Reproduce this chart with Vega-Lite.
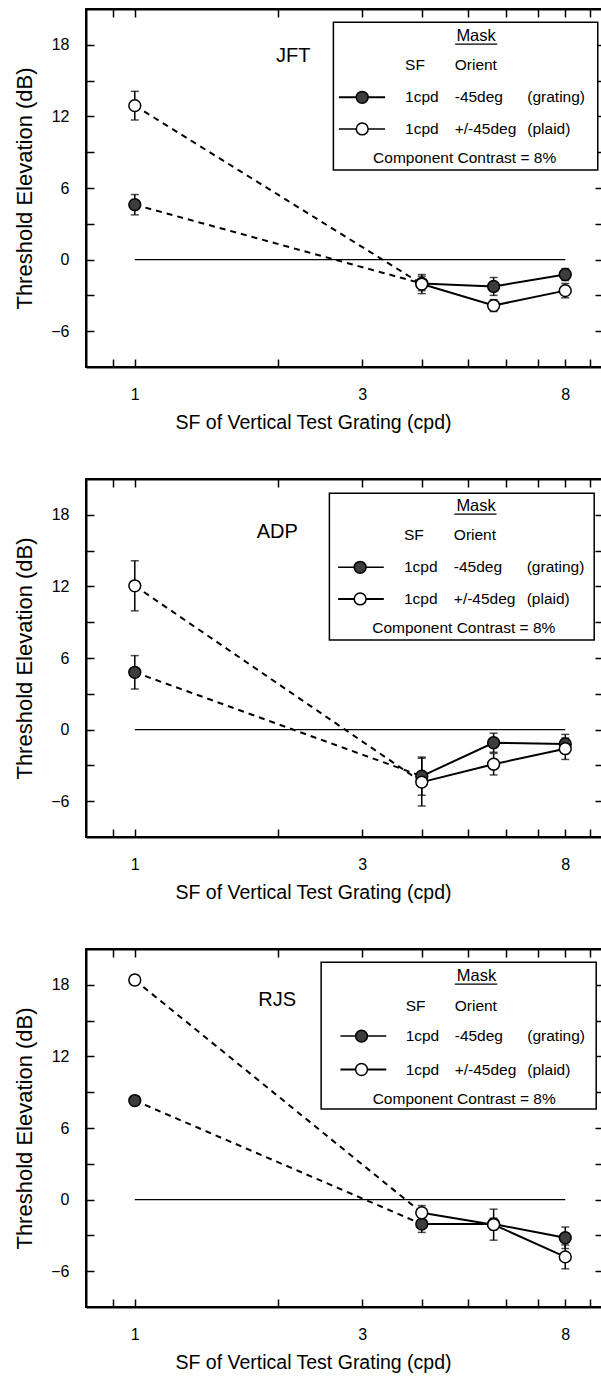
{
  "$schema": "https://vega.github.io/schema/vega-lite/v6.json",
  "padding": {"left": 12, "top": 7, "right": 0, "bottom": 4},
  "background": "white",
  "bounds": "flush",
  "spacing": 112,
  "datasets": {
    "pts": [
      {"subject": "JFT", "mask": "grating", "sf": 1, "thr": 4.6, "err": 0.85},
      {"subject": "JFT", "mask": "grating", "sf": 4, "thr": -2.0, "err": 0.6},
      {"subject": "JFT", "mask": "grating", "sf": 5.66, "thr": -2.25, "err": 0.75},
      {"subject": "JFT", "mask": "grating", "sf": 8, "thr": -1.25, "err": 0.5},
      {"subject": "JFT", "mask": "plaid", "sf": 1, "thr": 12.9, "err": 1.2},
      {"subject": "JFT", "mask": "plaid", "sf": 4, "thr": -2.05, "err": 0.8},
      {"subject": "JFT", "mask": "plaid", "sf": 5.66, "thr": -3.85, "err": 0.5},
      {"subject": "JFT", "mask": "plaid", "sf": 8, "thr": -2.6, "err": 0.6},
      {"subject": "ADP", "mask": "grating", "sf": 1, "thr": 4.8, "err": 1.4},
      {"subject": "ADP", "mask": "grating", "sf": 4, "thr": -3.9, "err": 1.6},
      {"subject": "ADP", "mask": "grating", "sf": 5.66, "thr": -1.1, "err": 0.8},
      {"subject": "ADP", "mask": "grating", "sf": 8, "thr": -1.2, "err": 0.8},
      {"subject": "ADP", "mask": "plaid", "sf": 1, "thr": 12.05, "err": 2.1},
      {"subject": "ADP", "mask": "plaid", "sf": 4, "thr": -4.4, "err": 2.0},
      {"subject": "ADP", "mask": "plaid", "sf": 5.66, "thr": -2.9, "err": 0.9},
      {"subject": "ADP", "mask": "plaid", "sf": 8, "thr": -1.6, "err": 0.9},
      {"subject": "RJS", "mask": "grating", "sf": 1, "thr": 8.3, "err": 0.3},
      {"subject": "RJS", "mask": "grating", "sf": 4, "thr": -2.05, "err": 0.7},
      {"subject": "RJS", "mask": "grating", "sf": 5.66, "thr": -2.05, "err": 0.5},
      {"subject": "RJS", "mask": "grating", "sf": 8, "thr": -3.2, "err": 0.9},
      {"subject": "RJS", "mask": "plaid", "sf": 1, "thr": 18.4, "err": 0.4},
      {"subject": "RJS", "mask": "plaid", "sf": 4, "thr": -1.1, "err": 0.6},
      {"subject": "RJS", "mask": "plaid", "sf": 5.66, "thr": -2.1, "err": 1.3},
      {"subject": "RJS", "mask": "plaid", "sf": 8, "thr": -4.8, "err": 1.0}
    ]
  },
  "config": {
    "font": "Liberation Sans",
    "view": {"stroke": "black", "strokeWidth": 2},
    "axis": {
      "grid": false,
      "domainColor": "black",
      "domainWidth": 2,
      "tickColor": "black",
      "tickWidth": 1.5,
      "tickSize": -8,
      "labelColor": "black",
      "titleColor": "black",
      "labelFont": "Liberation Sans",
      "titleFont": "Liberation Sans",
      "titleFontWeight": "normal",
      "labelFontSize": 16
    }
  },
  "vconcat": [
    {
      "width": 517, "height": 358,
      "data": {"name": "pts"},
      "transform": [{"filter": "datum.subject == 'JFT'"}],
      "resolve": {"axis": {"x": "independent", "y": "independent"}},
      "layer": [
        {"data": {"values": [{}]}, "mark": {"type": "rule", "color": "black", "strokeWidth": 1.2},
         "encoding": {
           "x": {"datum": 1, "type": "quantitative", "scale": {"type": "log", "domain": [0.79, 9.6], "nice": false}, "axis": {"orient": "top", "values": [0.9, 1, 2, 3, 4, 5, 6, 7, 8, 9], "labels": false, "title": null}},
           "x2": {"datum": 8},
           "y": {"datum": 0, "type": "quantitative", "scale": {"domain": [-9, 21], "nice": false, "zero": false}, "axis": {"orient": "right", "values": [-6, -3, 0, 3, 6, 9, 12, 15, 18], "labels": false, "title": null}}}},
        {"mark": {"type": "errorbar", "ticks": true, "color": "black", "thickness": 1.5, "size": 8, "orient": "vertical"},
         "encoding": {"x": {"field": "sf", "type": "quantitative", "axis": null}, "y": {"field": "thr", "type": "quantitative", "axis": null}, "yError": {"field": "err"}}},
        {"transform": [{"filter": "datum.sf <= 4"}], "mark": {"type": "line", "color": "black", "strokeWidth": 2, "strokeDash": [6, 5]},
         "encoding": {"x": {"field": "sf", "type": "quantitative", "axis": null}, "y": {"field": "thr", "type": "quantitative", "axis": null}, "detail": {"field": "mask", "type": "nominal"}}},
        {"transform": [{"filter": "datum.sf >= 4"}], "mark": {"type": "line", "color": "black", "strokeWidth": 2},
         "encoding": {"x": {"field": "sf", "type": "quantitative", "axis": null}, "y": {"field": "thr", "type": "quantitative", "axis": null}, "detail": {"field": "mask", "type": "nominal"}}},
        {"mark": {"type": "point", "shape": "circle", "filled": true, "stroke": "black", "strokeWidth": 1.5, "size": 140, "opacity": 1},
         "encoding": {
           "x": {"field": "sf", "type": "quantitative", "scale": {"type": "log", "domain": [0.79, 9.6], "nice": false},
                 "axis": {"orient": "bottom", "values": [0.9, 1, 2, 3, 4, 5, 6, 7, 8, 9], "format": "~g", "labelExpr": "datum.value == 1 || datum.value == 3 || datum.value == 8 ? datum.label : ''", "labelOverlap": false, "labelPadding": 27, "title": "SF of Vertical Test Grating (cpd)", "titleFontSize": 19.5, "titlePadding": 11, "titleX": 227}},
           "y": {"field": "thr", "type": "quantitative", "scale": {"domain": [-9, 21], "nice": false, "zero": false},
                 "axis": {"orient": "left", "values": [-6, -3, 0, 3, 6, 9, 12, 15, 18], "labelExpr": "datum.value % 6 == 0 ? datum.label : ''", "labelOverlap": false, "labelPadding": 25, "title": "Threshold Elevation (dB)", "titleFontSize": 22, "titlePadding": 14}},
           "fill": {"field": "mask", "type": "nominal", "scale": {"domain": ["grating", "plaid"], "range": ["#3d3d3d", "#ffffff"]}, "legend": null}}},
        {"data": {"values": [{}]}, "mark": {"type": "rect", "fill": "white", "stroke": "black", "strokeWidth": 1.5},
         "encoding": {"x": {"datum": 2.61, "type": "quantitative", "axis": null}, "x2": {"datum": 9.36}, "y": {"datum": 19.9, "type": "quantitative", "axis": null}, "y2": {"datum": 7.5}}},
        {"data": {"values": [{}]}, "mark": {"type": "text", "text": "Mask", "fontSize": 16.5, "align": "center", "baseline": "middle", "color": "black"},
         "encoding": {"x": {"datum": 5.2, "type": "quantitative", "axis": null}, "y": {"datum": 18.7, "type": "quantitative", "axis": null}}},
        {"data": {"values": [{}]}, "mark": {"type": "rule", "color": "black", "strokeWidth": 1.2},
         "encoding": {"x": {"datum": 4.7, "type": "quantitative", "axis": null}, "x2": {"datum": 5.76}, "y": {"datum": 18.05, "type": "quantitative", "axis": null}}},
        {"data": {"values": [{}]}, "mark": {"type": "text", "text": "SF", "fontSize": 15.5, "align": "left", "baseline": "middle", "color": "black"},
         "encoding": {"x": {"datum": 3.69, "type": "quantitative", "axis": null}, "y": {"datum": 16.3, "type": "quantitative", "axis": null}}},
        {"data": {"values": [{}]}, "mark": {"type": "text", "text": "Orient", "fontSize": 15.5, "align": "left", "baseline": "middle", "color": "black"},
         "encoding": {"x": {"datum": 4.69, "type": "quantitative", "axis": null}, "y": {"datum": 16.3, "type": "quantitative", "axis": null}}},
        {"data": {"values": [{}]}, "mark": {"type": "rule", "color": "black", "strokeWidth": 2},
         "encoding": {"x": {"datum": 2.68, "type": "quantitative", "axis": null}, "x2": {"datum": 3.35}, "y": {"datum": 13.6, "type": "quantitative", "axis": null}}},
        {"data": {"values": [{}]}, "mark": {"type": "point", "shape": "circle", "filled": true, "fill": "#3d3d3d", "stroke": "black", "strokeWidth": 1.5, "size": 140, "opacity": 1},
         "encoding": {"x": {"datum": 3.0, "type": "quantitative", "axis": null}, "y": {"datum": 13.6, "type": "quantitative", "axis": null}}},
        {"data": {"values": [{}]}, "mark": {"type": "text", "text": "1cpd", "fontSize": 15.5, "align": "left", "baseline": "middle", "color": "black"},
         "encoding": {"x": {"datum": 3.69, "type": "quantitative", "axis": null}, "y": {"datum": 13.6, "type": "quantitative", "axis": null}}},
        {"data": {"values": [{}]}, "mark": {"type": "text", "text": "-45deg", "fontSize": 15.5, "align": "left", "baseline": "middle", "color": "black"},
         "encoding": {"x": {"datum": 4.69, "type": "quantitative", "axis": null}, "y": {"datum": 13.6, "type": "quantitative", "axis": null}}},
        {"data": {"values": [{}]}, "mark": {"type": "text", "text": "(grating)", "fontSize": 15.5, "align": "left", "baseline": "middle", "color": "black"},
         "encoding": {"x": {"datum": 6.66, "type": "quantitative", "axis": null}, "y": {"datum": 13.6, "type": "quantitative", "axis": null}}},
        {"data": {"values": [{}]}, "mark": {"type": "rule", "color": "black", "strokeWidth": 1.5},
         "encoding": {"x": {"datum": 2.68, "type": "quantitative", "axis": null}, "x2": {"datum": 3.35}, "y": {"datum": 10.95, "type": "quantitative", "axis": null}}},
        {"data": {"values": [{}]}, "mark": {"type": "point", "shape": "circle", "filled": true, "fill": "white", "stroke": "black", "strokeWidth": 1.5, "size": 140, "opacity": 1},
         "encoding": {"x": {"datum": 3.0, "type": "quantitative", "axis": null}, "y": {"datum": 10.95, "type": "quantitative", "axis": null}}},
        {"data": {"values": [{}]}, "mark": {"type": "text", "text": "1cpd", "fontSize": 15.5, "align": "left", "baseline": "middle", "color": "black"},
         "encoding": {"x": {"datum": 3.69, "type": "quantitative", "axis": null}, "y": {"datum": 10.95, "type": "quantitative", "axis": null}}},
        {"data": {"values": [{}]}, "mark": {"type": "text", "text": "+/-45deg", "fontSize": 15.5, "align": "left", "baseline": "middle", "color": "black"},
         "encoding": {"x": {"datum": 4.69, "type": "quantitative", "axis": null}, "y": {"datum": 10.95, "type": "quantitative", "axis": null}}},
        {"data": {"values": [{}]}, "mark": {"type": "text", "text": "(plaid)", "fontSize": 15.5, "align": "left", "baseline": "middle", "color": "black"},
         "encoding": {"x": {"datum": 6.66, "type": "quantitative", "axis": null}, "y": {"datum": 10.95, "type": "quantitative", "axis": null}}},
        {"data": {"values": [{}]}, "mark": {"type": "text", "text": "Component Contrast = 8%", "fontSize": 15.5, "align": "center", "baseline": "middle", "color": "black"},
         "encoding": {"x": {"datum": 4.92, "type": "quantitative", "axis": null}, "y": {"datum": 8.5, "type": "quantitative", "axis": null}}},
        {"data": {"values": [{}]}, "mark": {"type": "text", "text": "JFT", "fontSize": 20, "align": "center", "baseline": "middle", "color": "black"},
         "encoding": {"x": {"datum": 2.15, "type": "quantitative", "axis": null}, "y": {"datum": 17.1, "type": "quantitative", "axis": null}}}
      ]
    },
    {
      "width": 517, "height": 358,
      "data": {"name": "pts"},
      "transform": [{"filter": "datum.subject == 'ADP'"}],
      "resolve": {"axis": {"x": "independent", "y": "independent"}},
      "layer": [
        {"data": {"values": [{}]}, "mark": {"type": "rule", "color": "black", "strokeWidth": 1.2},
         "encoding": {
           "x": {"datum": 1, "type": "quantitative", "scale": {"type": "log", "domain": [0.79, 9.6], "nice": false}, "axis": {"orient": "top", "values": [0.9, 1, 2, 3, 4, 5, 6, 7, 8, 9], "labels": false, "title": null}},
           "x2": {"datum": 8},
           "y": {"datum": 0, "type": "quantitative", "scale": {"domain": [-9, 21], "nice": false, "zero": false}, "axis": {"orient": "right", "values": [-6, -3, 0, 3, 6, 9, 12, 15, 18], "labels": false, "title": null}}}},
        {"mark": {"type": "errorbar", "ticks": true, "color": "black", "thickness": 1.5, "size": 8, "orient": "vertical"},
         "encoding": {"x": {"field": "sf", "type": "quantitative", "axis": null}, "y": {"field": "thr", "type": "quantitative", "axis": null}, "yError": {"field": "err"}}},
        {"transform": [{"filter": "datum.sf <= 4"}], "mark": {"type": "line", "color": "black", "strokeWidth": 2, "strokeDash": [6, 5]},
         "encoding": {"x": {"field": "sf", "type": "quantitative", "axis": null}, "y": {"field": "thr", "type": "quantitative", "axis": null}, "detail": {"field": "mask", "type": "nominal"}}},
        {"transform": [{"filter": "datum.sf >= 4"}], "mark": {"type": "line", "color": "black", "strokeWidth": 2},
         "encoding": {"x": {"field": "sf", "type": "quantitative", "axis": null}, "y": {"field": "thr", "type": "quantitative", "axis": null}, "detail": {"field": "mask", "type": "nominal"}}},
        {"mark": {"type": "point", "shape": "circle", "filled": true, "stroke": "black", "strokeWidth": 1.5, "size": 140, "opacity": 1},
         "encoding": {
           "x": {"field": "sf", "type": "quantitative", "scale": {"type": "log", "domain": [0.79, 9.6], "nice": false},
                 "axis": {"orient": "bottom", "values": [0.9, 1, 2, 3, 4, 5, 6, 7, 8, 9], "format": "~g", "labelExpr": "datum.value == 1 || datum.value == 3 || datum.value == 8 ? datum.label : ''", "labelOverlap": false, "labelPadding": 27, "title": "SF of Vertical Test Grating (cpd)", "titleFontSize": 19.5, "titlePadding": 11, "titleX": 227}},
           "y": {"field": "thr", "type": "quantitative", "scale": {"domain": [-9, 21], "nice": false, "zero": false},
                 "axis": {"orient": "left", "values": [-6, -3, 0, 3, 6, 9, 12, 15, 18], "labelExpr": "datum.value % 6 == 0 ? datum.label : ''", "labelOverlap": false, "labelPadding": 25, "title": "Threshold Elevation (dB)", "titleFontSize": 22, "titlePadding": 14}},
           "fill": {"field": "mask", "type": "nominal", "scale": {"domain": ["grating", "plaid"], "range": ["#3d3d3d", "#ffffff"]}, "legend": null}}},
        {"data": {"values": [{}]}, "mark": {"type": "rect", "fill": "white", "stroke": "black", "strokeWidth": 1.5},
         "encoding": {"x": {"datum": 2.56, "type": "quantitative", "axis": null}, "x2": {"datum": 9.2}, "y": {"datum": 19.8, "type": "quantitative", "axis": null}, "y2": {"datum": 7.5}}},
        {"data": {"values": [{}]}, "mark": {"type": "text", "text": "Mask", "fontSize": 16.5, "align": "center", "baseline": "middle", "color": "black"},
         "encoding": {"x": {"datum": 5.2, "type": "quantitative", "axis": null}, "y": {"datum": 18.7, "type": "quantitative", "axis": null}}},
        {"data": {"values": [{}]}, "mark": {"type": "rule", "color": "black", "strokeWidth": 1.2},
         "encoding": {"x": {"datum": 4.68, "type": "quantitative", "axis": null}, "x2": {"datum": 5.74}, "y": {"datum": 18.05, "type": "quantitative", "axis": null}}},
        {"data": {"values": [{}]}, "mark": {"type": "text", "text": "SF", "fontSize": 15.5, "align": "left", "baseline": "middle", "color": "black"},
         "encoding": {"x": {"datum": 3.67, "type": "quantitative", "axis": null}, "y": {"datum": 16.3, "type": "quantitative", "axis": null}}},
        {"data": {"values": [{}]}, "mark": {"type": "text", "text": "Orient", "fontSize": 15.5, "align": "left", "baseline": "middle", "color": "black"},
         "encoding": {"x": {"datum": 4.67, "type": "quantitative", "axis": null}, "y": {"datum": 16.3, "type": "quantitative", "axis": null}}},
        {"data": {"values": [{}]}, "mark": {"type": "rule", "color": "black", "strokeWidth": 1.5},
         "encoding": {"x": {"datum": 2.67, "type": "quantitative", "axis": null}, "x2": {"datum": 3.33}, "y": {"datum": 13.6, "type": "quantitative", "axis": null}}},
        {"data": {"values": [{}]}, "mark": {"type": "point", "shape": "circle", "filled": true, "fill": "#3d3d3d", "stroke": "black", "strokeWidth": 1.5, "size": 140, "opacity": 1},
         "encoding": {"x": {"datum": 2.97, "type": "quantitative", "axis": null}, "y": {"datum": 13.6, "type": "quantitative", "axis": null}}},
        {"data": {"values": [{}]}, "mark": {"type": "text", "text": "1cpd", "fontSize": 15.5, "align": "left", "baseline": "middle", "color": "black"},
         "encoding": {"x": {"datum": 3.67, "type": "quantitative", "axis": null}, "y": {"datum": 13.6, "type": "quantitative", "axis": null}}},
        {"data": {"values": [{}]}, "mark": {"type": "text", "text": "-45deg", "fontSize": 15.5, "align": "left", "baseline": "middle", "color": "black"},
         "encoding": {"x": {"datum": 4.67, "type": "quantitative", "axis": null}, "y": {"datum": 13.6, "type": "quantitative", "axis": null}}},
        {"data": {"values": [{}]}, "mark": {"type": "text", "text": "(grating)", "fontSize": 15.5, "align": "left", "baseline": "middle", "color": "black"},
         "encoding": {"x": {"datum": 6.64, "type": "quantitative", "axis": null}, "y": {"datum": 13.6, "type": "quantitative", "axis": null}}},
        {"data": {"values": [{}]}, "mark": {"type": "rule", "color": "black", "strokeWidth": 2},
         "encoding": {"x": {"datum": 2.67, "type": "quantitative", "axis": null}, "x2": {"datum": 3.33}, "y": {"datum": 10.95, "type": "quantitative", "axis": null}}},
        {"data": {"values": [{}]}, "mark": {"type": "point", "shape": "circle", "filled": true, "fill": "white", "stroke": "black", "strokeWidth": 1.5, "size": 140, "opacity": 1},
         "encoding": {"x": {"datum": 2.97, "type": "quantitative", "axis": null}, "y": {"datum": 10.95, "type": "quantitative", "axis": null}}},
        {"data": {"values": [{}]}, "mark": {"type": "text", "text": "1cpd", "fontSize": 15.5, "align": "left", "baseline": "middle", "color": "black"},
         "encoding": {"x": {"datum": 3.67, "type": "quantitative", "axis": null}, "y": {"datum": 10.95, "type": "quantitative", "axis": null}}},
        {"data": {"values": [{}]}, "mark": {"type": "text", "text": "+/-45deg", "fontSize": 15.5, "align": "left", "baseline": "middle", "color": "black"},
         "encoding": {"x": {"datum": 4.67, "type": "quantitative", "axis": null}, "y": {"datum": 10.95, "type": "quantitative", "axis": null}}},
        {"data": {"values": [{}]}, "mark": {"type": "text", "text": "(plaid)", "fontSize": 15.5, "align": "left", "baseline": "middle", "color": "black"},
         "encoding": {"x": {"datum": 6.64, "type": "quantitative", "axis": null}, "y": {"datum": 10.95, "type": "quantitative", "axis": null}}},
        {"data": {"values": [{}]}, "mark": {"type": "text", "text": "Component Contrast = 8%", "fontSize": 15.5, "align": "center", "baseline": "middle", "color": "black"},
         "encoding": {"x": {"datum": 4.9, "type": "quantitative", "axis": null}, "y": {"datum": 8.5, "type": "quantitative", "axis": null}}},
        {"data": {"values": [{}]}, "mark": {"type": "text", "text": "ADP", "fontSize": 20, "align": "center", "baseline": "middle", "color": "black"},
         "encoding": {"x": {"datum": 1.99, "type": "quantitative", "axis": null}, "y": {"datum": 16.6, "type": "quantitative", "axis": null}}}
      ]
    },
    {
      "width": 517, "height": 358,
      "data": {"name": "pts"},
      "transform": [{"filter": "datum.subject == 'RJS'"}],
      "resolve": {"axis": {"x": "independent", "y": "independent"}},
      "layer": [
        {"data": {"values": [{}]}, "mark": {"type": "rule", "color": "black", "strokeWidth": 1.2},
         "encoding": {
           "x": {"datum": 1, "type": "quantitative", "scale": {"type": "log", "domain": [0.79, 9.6], "nice": false}, "axis": {"orient": "top", "values": [0.9, 1, 2, 3, 4, 5, 6, 7, 8, 9], "labels": false, "title": null}},
           "x2": {"datum": 8},
           "y": {"datum": 0, "type": "quantitative", "scale": {"domain": [-9, 21], "nice": false, "zero": false}, "axis": {"orient": "right", "values": [-6, -3, 0, 3, 6, 9, 12, 15, 18], "labels": false, "title": null}}}},
        {"mark": {"type": "errorbar", "ticks": true, "color": "black", "thickness": 1.5, "size": 8, "orient": "vertical"},
         "encoding": {"x": {"field": "sf", "type": "quantitative", "axis": null}, "y": {"field": "thr", "type": "quantitative", "axis": null}, "yError": {"field": "err"}}},
        {"transform": [{"filter": "datum.sf <= 4"}], "mark": {"type": "line", "color": "black", "strokeWidth": 2, "strokeDash": [6, 5]},
         "encoding": {"x": {"field": "sf", "type": "quantitative", "axis": null}, "y": {"field": "thr", "type": "quantitative", "axis": null}, "detail": {"field": "mask", "type": "nominal"}}},
        {"transform": [{"filter": "datum.sf >= 4"}], "mark": {"type": "line", "color": "black", "strokeWidth": 2},
         "encoding": {"x": {"field": "sf", "type": "quantitative", "axis": null}, "y": {"field": "thr", "type": "quantitative", "axis": null}, "detail": {"field": "mask", "type": "nominal"}}},
        {"mark": {"type": "point", "shape": "circle", "filled": true, "stroke": "black", "strokeWidth": 1.5, "size": 140, "opacity": 1},
         "encoding": {
           "x": {"field": "sf", "type": "quantitative", "scale": {"type": "log", "domain": [0.79, 9.6], "nice": false},
                 "axis": {"orient": "bottom", "values": [0.9, 1, 2, 3, 4, 5, 6, 7, 8, 9], "format": "~g", "labelExpr": "datum.value == 1 || datum.value == 3 || datum.value == 8 ? datum.label : ''", "labelOverlap": false, "labelPadding": 27, "title": "SF of Vertical Test Grating (cpd)", "titleFontSize": 19.5, "titlePadding": 11, "titleX": 227}},
           "y": {"field": "thr", "type": "quantitative", "scale": {"domain": [-9, 21], "nice": false, "zero": false},
                 "axis": {"orient": "left", "values": [-6, -3, 0, 3, 6, 9, 12, 15, 18], "labelExpr": "datum.value % 6 == 0 ? datum.label : ''", "labelOverlap": false, "labelPadding": 25, "title": "Threshold Elevation (dB)", "titleFontSize": 22, "titlePadding": 14}},
           "fill": {"field": "mask", "type": "nominal", "scale": {"domain": ["grating", "plaid"], "range": ["#3d3d3d", "#ffffff"]}, "legend": null}}},
        {"data": {"values": [{}]}, "mark": {"type": "rect", "fill": "white", "stroke": "black", "strokeWidth": 1.5},
         "encoding": {"x": {"datum": 2.46, "type": "quantitative", "axis": null}, "x2": {"datum": 9.29}, "y": {"datum": 19.9, "type": "quantitative", "axis": null}, "y2": {"datum": 7.6}}},
        {"data": {"values": [{}]}, "mark": {"type": "text", "text": "Mask", "fontSize": 16.5, "align": "center", "baseline": "middle", "color": "black"},
         "encoding": {"x": {"datum": 5.21, "type": "quantitative", "axis": null}, "y": {"datum": 18.7, "type": "quantitative", "axis": null}}},
        {"data": {"values": [{}]}, "mark": {"type": "rule", "color": "black", "strokeWidth": 1.2},
         "encoding": {"x": {"datum": 4.69, "type": "quantitative", "axis": null}, "x2": {"datum": 5.76}, "y": {"datum": 18.05, "type": "quantitative", "axis": null}}},
        {"data": {"values": [{}]}, "mark": {"type": "text", "text": "SF", "fontSize": 15.5, "align": "left", "baseline": "middle", "color": "black"},
         "encoding": {"x": {"datum": 3.7, "type": "quantitative", "axis": null}, "y": {"datum": 16.2, "type": "quantitative", "axis": null}}},
        {"data": {"values": [{}]}, "mark": {"type": "text", "text": "Orient", "fontSize": 15.5, "align": "left", "baseline": "middle", "color": "black"},
         "encoding": {"x": {"datum": 4.69, "type": "quantitative", "axis": null}, "y": {"datum": 16.2, "type": "quantitative", "axis": null}}},
        {"data": {"values": [{}]}, "mark": {"type": "rule", "color": "black", "strokeWidth": 1.5},
         "encoding": {"x": {"datum": 2.7, "type": "quantitative", "axis": null}, "x2": {"datum": 3.37}, "y": {"datum": 13.7, "type": "quantitative", "axis": null}}},
        {"data": {"values": [{}]}, "mark": {"type": "point", "shape": "circle", "filled": true, "fill": "#3d3d3d", "stroke": "black", "strokeWidth": 1.5, "size": 140, "opacity": 1},
         "encoding": {"x": {"datum": 2.99, "type": "quantitative", "axis": null}, "y": {"datum": 13.7, "type": "quantitative", "axis": null}}},
        {"data": {"values": [{}]}, "mark": {"type": "text", "text": "1cpd", "fontSize": 15.5, "align": "left", "baseline": "middle", "color": "black"},
         "encoding": {"x": {"datum": 3.7, "type": "quantitative", "axis": null}, "y": {"datum": 13.7, "type": "quantitative", "axis": null}}},
        {"data": {"values": [{}]}, "mark": {"type": "text", "text": "-45deg", "fontSize": 15.5, "align": "left", "baseline": "middle", "color": "black"},
         "encoding": {"x": {"datum": 4.69, "type": "quantitative", "axis": null}, "y": {"datum": 13.7, "type": "quantitative", "axis": null}}},
        {"data": {"values": [{}]}, "mark": {"type": "text", "text": "(grating)", "fontSize": 15.5, "align": "left", "baseline": "middle", "color": "black"},
         "encoding": {"x": {"datum": 6.66, "type": "quantitative", "axis": null}, "y": {"datum": 13.7, "type": "quantitative", "axis": null}}},
        {"data": {"values": [{}]}, "mark": {"type": "rule", "color": "black", "strokeWidth": 2},
         "encoding": {"x": {"datum": 2.7, "type": "quantitative", "axis": null}, "x2": {"datum": 3.37}, "y": {"datum": 10.9, "type": "quantitative", "axis": null}}},
        {"data": {"values": [{}]}, "mark": {"type": "point", "shape": "circle", "filled": true, "fill": "white", "stroke": "black", "strokeWidth": 1.5, "size": 140, "opacity": 1},
         "encoding": {"x": {"datum": 2.99, "type": "quantitative", "axis": null}, "y": {"datum": 10.9, "type": "quantitative", "axis": null}}},
        {"data": {"values": [{}]}, "mark": {"type": "text", "text": "1cpd", "fontSize": 15.5, "align": "left", "baseline": "middle", "color": "black"},
         "encoding": {"x": {"datum": 3.7, "type": "quantitative", "axis": null}, "y": {"datum": 10.9, "type": "quantitative", "axis": null}}},
        {"data": {"values": [{}]}, "mark": {"type": "text", "text": "+/-45deg", "fontSize": 15.5, "align": "left", "baseline": "middle", "color": "black"},
         "encoding": {"x": {"datum": 4.69, "type": "quantitative", "axis": null}, "y": {"datum": 10.9, "type": "quantitative", "axis": null}}},
        {"data": {"values": [{}]}, "mark": {"type": "text", "text": "(plaid)", "fontSize": 15.5, "align": "left", "baseline": "middle", "color": "black"},
         "encoding": {"x": {"datum": 6.66, "type": "quantitative", "axis": null}, "y": {"datum": 10.9, "type": "quantitative", "axis": null}}},
        {"data": {"values": [{}]}, "mark": {"type": "text", "text": "Component Contrast = 8%", "fontSize": 15.5, "align": "center", "baseline": "middle", "color": "black"},
         "encoding": {"x": {"datum": 4.91, "type": "quantitative", "axis": null}, "y": {"datum": 8.4, "type": "quantitative", "axis": null}}},
        {"data": {"values": [{}]}, "mark": {"type": "text", "text": "RJS", "fontSize": 20, "align": "center", "baseline": "middle", "color": "black"},
         "encoding": {"x": {"datum": 1.99, "type": "quantitative", "axis": null}, "y": {"datum": 16.7, "type": "quantitative", "axis": null}}}
      ]
    }
  ]
}
